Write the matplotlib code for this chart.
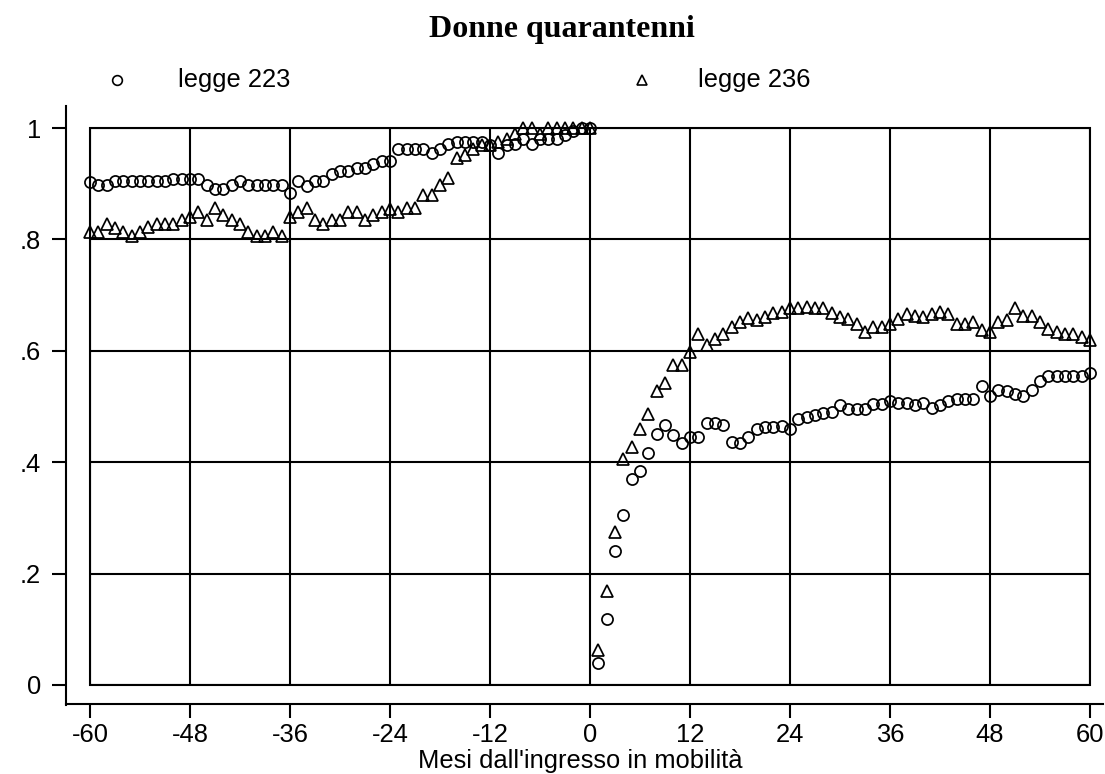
import matplotlib
matplotlib.use("Agg")
import matplotlib.pyplot as plt
from matplotlib.lines import Line2D
from matplotlib.patches import Rectangle

# ---------------- data ----------------
months = list(range(-60, 61))

legge223 = [
    # -60 .. 0
    0.903, 0.898, 0.898, 0.904, 0.904, 0.904, 0.904, 0.904, 0.904, 0.904,
    0.908, 0.908, 0.908, 0.908, 0.898, 0.890, 0.890, 0.898, 0.904, 0.898,
    0.898, 0.898, 0.898, 0.898, 0.884, 0.904, 0.896, 0.904, 0.904, 0.917,
    0.923, 0.923, 0.929, 0.929, 0.935, 0.941, 0.941, 0.962, 0.962, 0.962,
    0.962, 0.955, 0.962, 0.971, 0.974, 0.974, 0.974, 0.974, 0.970, 0.955,
    0.969, 0.972, 0.980, 0.972, 0.980, 0.980, 0.980, 0.988, 0.995, 1.000,
    1.000,
    # 1 .. 60
    0.039, 0.118, 0.241, 0.305, 0.369, 0.384, 0.416, 0.450, 0.466, 0.448,
    0.434, 0.446, 0.446, 0.470, 0.470, 0.466, 0.436, 0.434, 0.446, 0.460,
    0.464, 0.464, 0.465, 0.459, 0.478, 0.482, 0.485, 0.488, 0.490, 0.503,
    0.495, 0.495, 0.495, 0.504, 0.504, 0.510, 0.507, 0.507, 0.503, 0.507,
    0.498, 0.503, 0.510, 0.513, 0.513, 0.513, 0.536, 0.519, 0.530, 0.527,
    0.522, 0.519, 0.530, 0.546, 0.555, 0.555, 0.555, 0.555, 0.555, 0.560,
]

legge236 = [
    # -60 .. 0
    0.813, 0.813, 0.828, 0.820, 0.814, 0.806, 0.814, 0.822, 0.828, 0.828,
    0.828, 0.834, 0.840, 0.849, 0.834, 0.856, 0.843, 0.835, 0.828, 0.813,
    0.806, 0.806, 0.813, 0.806, 0.840, 0.849, 0.856, 0.834, 0.828, 0.834,
    0.834, 0.849, 0.849, 0.834, 0.843, 0.849, 0.854, 0.849, 0.856, 0.856,
    0.879, 0.879, 0.897, 0.910, 0.946, 0.952, 0.962, 0.970, 0.970, 0.975,
    0.981, 0.989, 1.000, 1.000, 0.989, 1.000, 1.000, 1.000, 1.000, 1.000,
    1.000,
    # 1 .. 60
    0.063, 0.169, 0.274, 0.406, 0.428, 0.459, 0.487, 0.528, 0.543, 0.574,
    0.574, 0.598, 0.630, 0.610, 0.621, 0.631, 0.643, 0.651, 0.658, 0.655,
    0.661, 0.668, 0.669, 0.677, 0.676, 0.679, 0.677, 0.677, 0.668, 0.661,
    0.657, 0.649, 0.633, 0.643, 0.643, 0.649, 0.657, 0.666, 0.663, 0.661,
    0.666, 0.670, 0.666, 0.649, 0.649, 0.652, 0.637, 0.634, 0.651, 0.656,
    0.677, 0.663, 0.663, 0.652, 0.639, 0.633, 0.630, 0.630, 0.624, 0.619,
]

x_ticks = [-60, -48, -36, -24, -12, 0, 12, 24, 36, 48, 60]
x_ticklabels = ["-60", "-48", "-36", "-24", "-12", "0", "12", "24", "36", "48", "60"]
y_ticks = [0, 0.2, 0.4, 0.6, 0.8, 1.0]
y_ticklabels = ["0", ".2", ".4", ".6", ".8", "1"]
series_labels = ["legge 223", "legge 236"]
title = "Donne quarantenni"
xlabel = "Mesi dall'ingresso in mobilità"

# ---------------- figure ----------------
W, H = 1105, 774
PX = 72 / 100  # points per pixel
plt.rcParams["font.family"] = ["Liberation Sans", "DejaVu Sans"]
plt.rcParams["axes.unicode_minus"] = False
fig = plt.figure(figsize=(W / 100, H / 100), dpi=100)
fig.patch.set_facecolor("white")

L, R, T, B = 90, 1090, 128, 685
ax = fig.add_axes([L / W, 1 - B / H, (R - L) / W, (B - T) / H])
ax.set_xlim(-60, 60)
ax.set_ylim(0, 1)

lw = 1.5
ax.plot(months, legge223, linestyle="none", marker="o", ms=8.0,
        mfc="none", mec="black", mew=1.25, clip_on=False, zorder=3)
ax.plot(months, legge236, linestyle="none", marker="^", ms=9.2,
        mfc="none", mec="black", mew=1.25, clip_on=False, zorder=3)

# grid + frame
ax.set_xticks(x_ticks)
ax.set_xticklabels(x_ticklabels)
ax.set_yticks(y_ticks)
ax.set_yticklabels(y_ticklabels)
ax.grid(True, color="black", linewidth=lw, zorder=1)
ax.set_axisbelow(True)
ax.add_patch(Rectangle((0, 0), 1, 1, transform=ax.transAxes, fill=False,
                       edgecolor="black", linewidth=lw, clip_on=False, zorder=2))

for s in ["top", "right"]:
    ax.spines[s].set_visible(False)
ax.spines["left"].set_position(("outward", 24 * PX))
ax.spines["bottom"].set_position(("outward", 19 * PX))
ax.spines["left"].set_linewidth(lw)
ax.spines["bottom"].set_linewidth(lw)
ax.spines["left"].set_bounds(-0.036, 1.04)
ax.spines["bottom"].set_bounds(-62.9, 61.5)

ax.tick_params(axis="both", length=14 * PX, width=lw, color="black",
               labelsize=18.4, labelcolor="black")
ax.tick_params(axis="x", pad=5 * PX)
ax.tick_params(axis="y", pad=11 * PX)

# title
fig.text(562 / W, 1 - 30 / H, title, ha="center", va="center",
         fontsize=23, fontweight="bold",
         family=["Liberation Serif", "DejaVu Serif"])

# x label
fig.text(580 / W, 1 - 768 / H, xlabel, ha="center", va="baseline", fontsize=18.4)

# legend
ly = 1 - 80 / H
fig.add_artist(Line2D([117 / W], [ly], transform=fig.transFigure, marker="o",
                      ms=7.0, mfc="none", mec="black", mew=1.2, linestyle="none"))
fig.text(178 / W, ly, series_labels[0], ha="left", va="center", fontsize=18.4)
fig.add_artist(Line2D([642 / W], [ly], transform=fig.transFigure, marker="^",
                      ms=6.5, mfc="none", mec="black", mew=1.2, linestyle="none"))
fig.text(698 / W, ly, series_labels[1], ha="left", va="center", fontsize=18.4)

fig.savefig("out.png", dpi=100, facecolor="white")
